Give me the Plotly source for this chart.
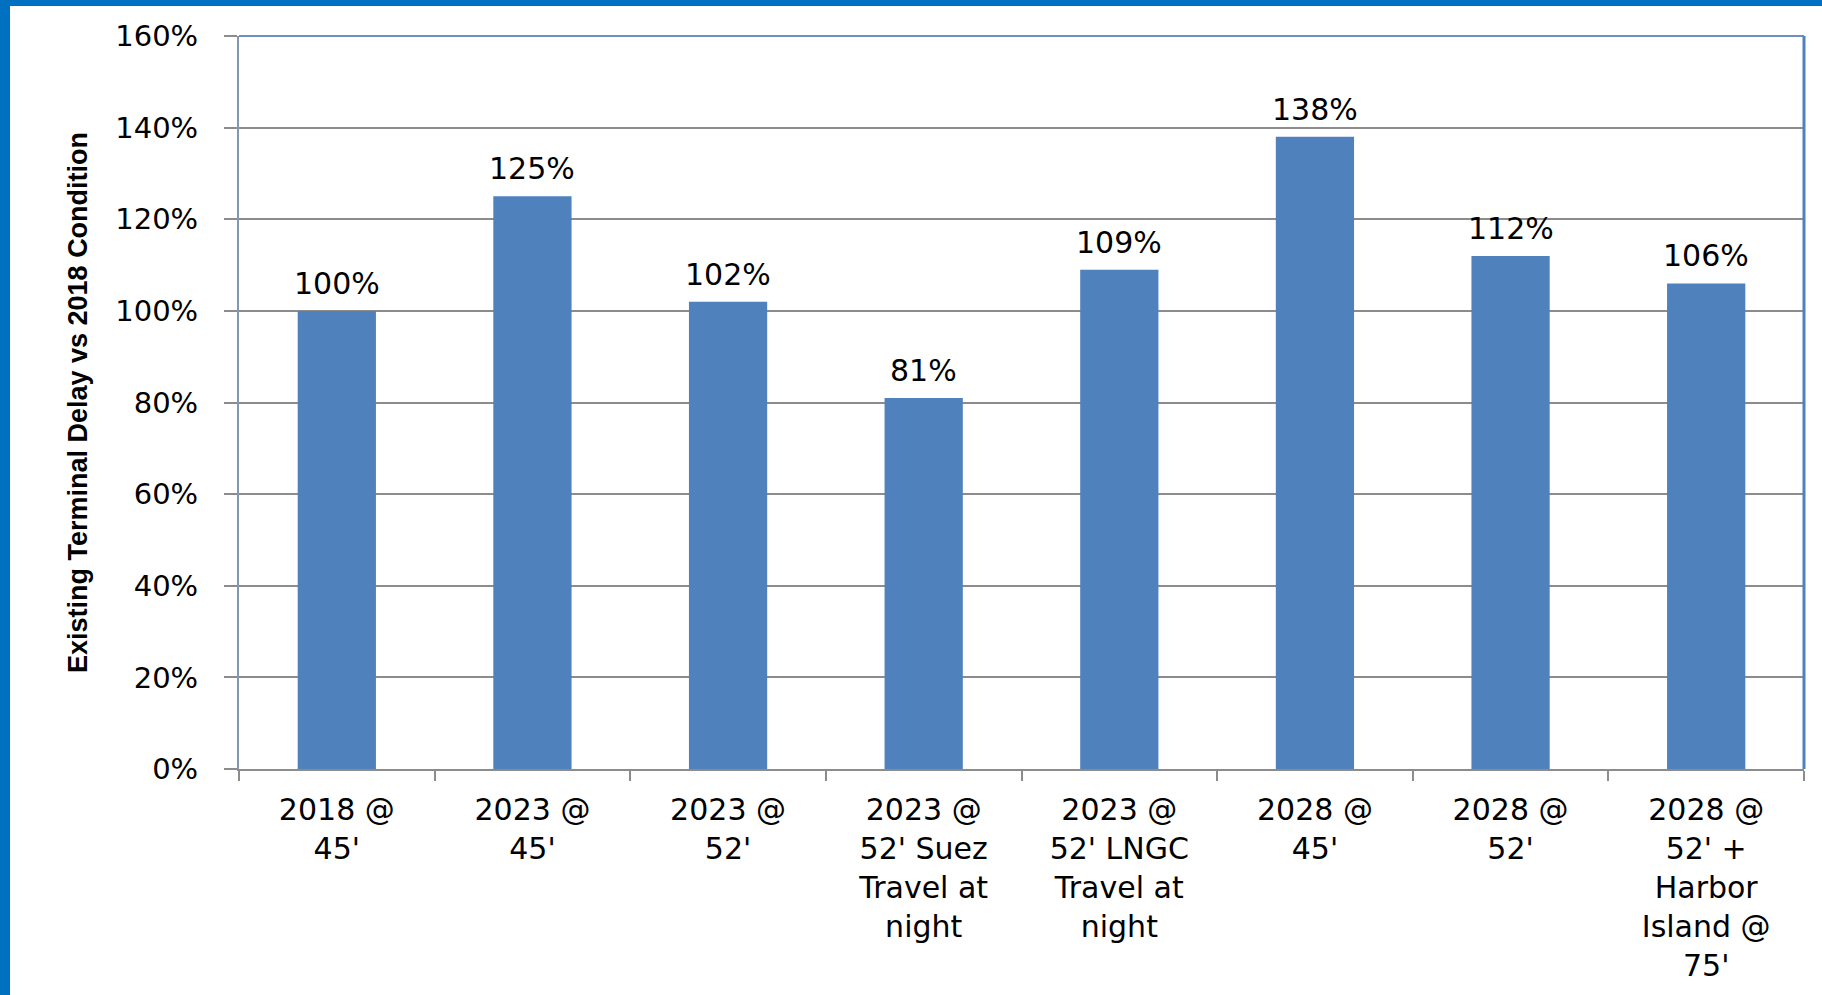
import plotly.graph_objects as go

# Scenario labels (line breaks as shown under each bar)
categories = [
    "2018 @<br>45'",
    "2023 @<br>45'",
    "2023 @<br>52'",
    "2023 @<br>52' Suez<br>Travel at<br>night",
    "2023 @<br>52' LNGC<br>Travel at<br>night",
    "2028 @<br>45'",
    "2028 @<br>52'",
    "2028 @<br>52' +<br>Harbor<br>Island @<br>75'",
]
# Terminal delay relative to the 2018 condition, in percent
delay_pct = [100, 125, 102, 81, 109, 138, 112, 106]
y_ticks = [0, 20, 40, 60, 80, 100, 120, 140, 160]

BAR_BLUE = "#4F81BD"
FRAME_BLUE = "#0070C0"
GRID = "#8C8C8C"
FONT = "DejaVu Sans, Open Sans, sans-serif"

fig = go.Figure(
    go.Bar(
        x=categories,
        y=delay_pct,
        marker=dict(color=BAR_BLUE, line=dict(width=0)),
        width=0.4,
        hoverinfo="x+y",
    )
)

# value labels sitting just above each bar
for cat, val in zip(categories, delay_pct):
    fig.add_annotation(
        x=cat, y=val, xref="x", yref="y",
        text=f"{val}%",
        showarrow=False,
        yanchor="bottom",
        yshift=8,
        font=dict(family=FONT, size=30, color="black"),
    )

fig.update_layout(
    width=1822,
    height=995,
    margin=dict(l=239, r=18, t=36, b=226),
    paper_bgcolor="white",
    plot_bgcolor="white",
    showlegend=False,
    font=dict(family=FONT, color="black"),
    xaxis=dict(
        type="category",
        showgrid=False,
        showline=True,
        linecolor=GRID,
        linewidth=2,
        ticks="outside",
        tickson="boundaries",
        ticklen=10,
        tickwidth=2,
        tickcolor=GRID,
        tickfont=dict(family=FONT, size=30, color="black"),
        ticklabelstandoff=13,
    ),
    yaxis=dict(
        range=[0, 160],
        tickvals=y_ticks,
        ticktext=[f"{v}%" for v in y_ticks],
        showgrid=True,
        gridcolor=GRID,
        gridwidth=2,
        zeroline=False,
        showline=True,
        linecolor="#8497B0",
        linewidth=2,
        ticks="outside",
        ticklen=13,
        tickwidth=2,
        tickcolor=GRID,
        tickfont=dict(family=FONT, size=29, color="black"),
        ticklabelstandoff=20,
        title=dict(
            text="<b>Existing Terminal Delay vs 2018 Condition</b>",
            font=dict(family="Liberation Sans Narrow, Arial Narrow, Liberation Sans, sans-serif",
                      size=27, color="black"),
            standoff=20,
        ),
    ),
    shapes=[
        # plot frame: blue top and right edges
        dict(type="line", xref="paper", yref="paper", x0=0, x1=1, y0=1, y1=1,
             line=dict(color="#6F8FC0", width=2)),
        dict(type="line", xref="paper", yref="paper", x0=1, x1=1, y0=0, y1=1,
             line=dict(color=BAR_BLUE, width=3)),
        # slide border strips along the left and top of the page
        dict(type="rect", xref="paper", yref="paper", x0=-239 / 1565, x1=-229 / 1565,
             y0=-226 / 733, y1=1 + 36 / 733, fillcolor=FRAME_BLUE, line=dict(width=0), layer="above"),
        dict(type="rect", xref="paper", yref="paper", x0=-239 / 1565, x1=1 + 18 / 1565,
             y0=1 + 30 / 733, y1=1 + 36 / 733, fillcolor=FRAME_BLUE, line=dict(width=0), layer="above"),
    ],
)

fig.write_html("out.html")
